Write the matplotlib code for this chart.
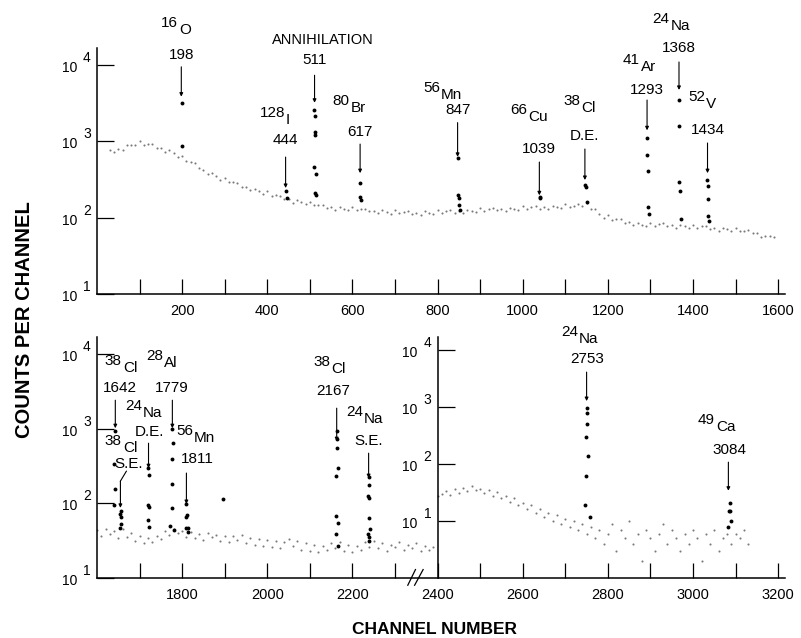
import matplotlib
matplotlib.use('Agg')
import matplotlib.pyplot as plt
from matplotlib.ticker import FixedLocator, NullLocator, NullFormatter
from matplotlib.transforms import blended_transform_factory

plt.rcParams['font.family'] = ['Liberation Sans', 'DejaVu Sans']

PX = 0.72  # points per pixel at dpi 100

# ---- top panel: channels 0-1600 ----
top_bg_ch = list(range(30, 1600, 10))
top_bg = [756, 718, 778, 752, 874, 880, 874, 990, 897, 918,
          914, 815, 818, 724, 759, 690, 624, 642, 549, 536,
          515, 441, 424, 371, 385, 345, 312, 332, 289, 289,
          286, 252, 253, 226, 239, 220, 204, 219, 193, 194,
          192, 172, 174, 157, 168, 158, 148, 161, 144, 147,
          147, 133, 136, 125, 136, 130, 124, 137, 124, 129,
          131, 120, 123, 114, 125, 118, 112, 124, 114, 117,
          121, 112, 116, 108, 121, 116, 111, 125, 115, 120,
          124, 115, 121, 114, 127, 123, 119, 134, 123, 130,
          134, 124, 130, 122, 135, 131, 127, 141, 130, 137,
          141, 131, 137, 128, 142, 137, 132, 148, 136, 143,
          149, 142, 154, 130, 129, 112, 100, 107, 94, 95,
          95, 85, 87, 79, 85, 81, 77, 86, 78, 82,
          84, 77, 80, 73, 81, 77, 74, 81, 74, 77,
          78, 71, 73, 67, 74, 70, 66, 73, 66, 67,
          68, 62, 63, 55, 57, 57, 56]

top_peak_ch = [199, 200,
               445, 446,
               510, 512, 511, 513, 510, 514, 511, 515,
               617, 618, 619,
               848, 849, 850, 851, 852,
               1040, 1041,
               1147, 1148, 1150,
               1292, 1293, 1294, 1295, 1296,
               1366, 1368, 1368, 1370, 1371,
               1433, 1434, 1435, 1436, 1437]
top_peak = [3160, 850,
            224, 178,
            2570, 2140, 1320, 1200, 457, 365, 209, 195,
            282, 186, 170,
            600, 196, 178, 145, 126,
            186, 178,
            264, 250, 160,
            1100, 665, 410, 138, 112,
            3470, 1590, 288, 222, 95,
            309, 258, 174, 105, 90]

# ---- bottom panel, left scale: channels 1600-2400 ----
low_bg_ch = list(range(1600, 2400, 10))
low_bg = [44, 36, 46, 39, 42, 34, 45, 35, 40, 31,
          36, 29, 34, 30, 37, 33, 42, 38, 46, 40,
          43, 35, 41, 34, 39, 32, 40, 35, 38, 31,
          37, 30, 36, 32, 38, 29, 34, 28, 33, 27,
          32, 26, 31, 25, 30, 33, 27, 31, 24, 29,
          23, 28, 22, 27, 24, 29, 25, 30, 23, 28,
          22, 27, 24, 30, 26, 31, 25, 29, 23, 28,
          26, 30, 24, 28, 25, 29, 23, 27, 24, 26]

low_peak_ch = [1642, 1640, 1643, 1641,
               1656, 1655, 1657, 1657, 1655,
               1720, 1721, 1720, 1722, 1720, 1722,
               1777, 1778, 1776, 1777, 1776, 1771, 1782,
               1810, 1811, 1809, 1808, 1813, 1813,
               1897,
               2163, 2164, 2163, 2165, 2162, 2161, 2165, 2162, 2166,
               2238, 2239, 2237, 2240, 2239, 2241, 2236, 2240, 2238]
low_peak = [940, 340, 155, 95,
            79, 72, 66, 53, 47,
            296, 240, 95, 89, 60, 48,
            980, 650, 390, 182, 87, 50, 44,
            98, 70, 66, 47, 47, 41,
            115,
            940, 740, 560, 296, 235, 68, 55, 39, 27,
            225, 177, 126, 118, 63, 46, 39, 35, 31]

# ---- bottom panel, right scale: channels 2400-3200 ----
high_bg_ch = list(range(2400, 3140, 10))
high_bg = [27, 30, 34, 29, 36, 31, 38, 33, 42, 35,
           37, 31, 35, 28, 32, 25, 28, 22, 25, 19,
           21, 16, 19, 14, 16, 12, 14, 10, 13, 9,
           11, 8, 10, 7, 9, 6, 8, 5, 7, 4,
           6, 9, 3, 7, 5, 10, 4, 6, 2, 7,
           5, 3, 6, 9, 4, 7, 5, 3, 6, 4,
           7, 5, 2, 6, 4, 7, 3, 5, 6, 4,
           6, 5, 7, 4]

high_peak_ch = [2750, 2752, 2752, 2749, 2753, 2749, 2747, 2757,
                3086, 3084, 3087, 3088, 3083]
high_peak = [955, 780, 500, 297, 138, 62, 19, 12,
             21, 15, 15, 10, 8]

# peak labels: channel, arrow top, arrow tip, energy text, mass, element
top_notes = [
    (198, 9330, 3800, '198', '16', 'O'),
    (443, 617, 243, '444', '128', 'I'),
    (511, 7240, 3160, '511', '', 'ANNIHILATION'),
    (618, 912, 380, '617', '80', 'Br'),
    (847, 1740, 620, '847', '56', 'Mn'),
    (1039, 531, 195, '1039', '66', 'Cu'),
    (1146, 786, 309, '1146', '38', 'Cl'),
    (1292, 3436, 1380, '1293', '41', 'Ar'),
    (1367, 10790, 4650, '1368', '24', 'Na'),
    (1434, 942, 380, '1434', '52', 'V'),
]
top_notes[6] = (1146, 786, 309, 'D.E.', '38', 'Cl')
low_notes = [
    (1643, 2415, 1018, '1642', '38', 'Cl'),
    (1655, 199, 87, 'S.E.', '38', 'Cl'),
    (1721, 641, 296, 'D.E.', '24', 'Na'),
    (1777, 2415, 1018, '1779', '28', 'Al'),
    (1810, 255, 98, '1811', '56', 'Mn'),
    (2163, 1888, 682, '2167', '38', 'Cl'),
    (2238, 471, 218, 'S.E.', '24', 'Na'),
]
high_notes = [
    (2750, 4110, 1274, '2753', '24', 'Na'),
    (3083, 108, 34, '3084', '49', 'Ca'),
]

# label layout in pixels: energy up, energy dx, isotope up, isotope split dx
top_layout = [(12, 0, 37, -3), (17, 0, 37, 0), (15, 0, 35, 8), (12, 0, 36, -10),
              (13, 0, 28, -17), (13, 0, 45, -12), (13, 0, 41, -4), (10, 0, 33, -7),
              (14, 0, 36, -9), (13, 0, 39, -2)]
low_layout = [(12, 5, 32, 7), (17, 8, 33, 2), (11, 1, 30, -6), (12, -1, 37, -9),
              (14, 11, 35, 7), (17, -4, 39, -6), (12, 0, 34, -5)]
high_layout = [(13, 1, 33, -8), (12, 1, 35, -13)]

fig = plt.figure(figsize=(8.01, 6.38), dpi=100)
ax_top = fig.add_axes([97 / 801, 1 - 294 / 638, 688 / 801, 246 / 638])
ax_low = fig.add_axes([97 / 801, 1 - 578 / 638, 688 / 801, 241 / 638])
ax_high = ax_low.twinx()


def style(ax, xlim, ylim, major, minor):
    ax.set_yscale('log')
    ax.set_xlim(*xlim)
    ax.set_ylim(*ylim)
    for s in ('top', 'right'):
        ax.spines[s].set_visible(False)
    for s in ('left', 'bottom'):
        ax.spines[s].set_linewidth(1.1)
    ax.xaxis.set_major_locator(FixedLocator(major))
    ax.xaxis.set_minor_locator(FixedLocator(minor))
    ax.xaxis.set_minor_formatter(NullFormatter())
    ax.tick_params(axis='x', which='both', direction='in', length=11, width=0.9,
                   pad=7, labelsize=10.5)
    ax.yaxis.set_major_locator(FixedLocator([10, 100, 1000, 10000]))
    ax.yaxis.set_minor_locator(NullLocator())
    ax.tick_params(axis='y', which='both', direction='in', length=12, width=0.9,
                   labelleft=False, labelright=False)


style(ax_top, (0, 1616), (10, 10 ** 4.216), range(200, 1601, 200), range(100, 1600, 200))
style(ax_low, (1600, 3216), (10, 10 ** 4.23), range(1800, 3201, 200),
      [1700, 1900, 2100, 2300, 2500, 2700, 2900, 3100])

ax_high.set_yscale('log')
ax_high.set_ylim(1, 10 ** 4.23)
for s in ('top', 'right', 'bottom'):
    ax_high.spines[s].set_visible(False)
ax_high.spines['left'].set_visible(True)
ax_high.spines['left'].set_position(('data', 2400))
ax_high.spines['left'].set_linewidth(1.1)
ax_high.yaxis.tick_left()
ax_high.yaxis.set_major_locator(FixedLocator([10, 100, 1000, 10000]))
ax_high.yaxis.set_minor_locator(NullLocator())
ax_high.tick_params(axis='y', which='both', direction='in', length=12, width=0.9,
                    labelleft=False, labelright=False)

bg_style = dict(ls='none', marker='o', ms=1.5, mew=0, color='#7a7a7a')
pk_style = dict(ls='none', marker='o', ms=2.8, mew=0, color='black')
ax_top.plot(top_bg_ch, top_bg, **bg_style)
ax_top.plot(top_peak_ch, top_peak, **pk_style)
ax_low.plot(low_bg_ch, low_bg, **bg_style)
ax_low.plot(low_peak_ch, low_peak, **pk_style)
ax_high.plot(high_bg_ch, high_bg, **bg_style)
ax_high.plot(high_peak_ch, high_peak, **pk_style)


def decades(ax, x, xcoords):
    for k in (1, 2, 3, 4):
        ax.annotate('10', xy=(x, 10 ** k), xycoords=(xcoords, 'data'),
                    xytext=(-20 * PX, -3 * PX), textcoords='offset points',
                    ha='right', va='center', fontsize=10, annotation_clip=False)
        ax.annotate(str(k), xy=(x, 10 ** k), xycoords=(xcoords, 'data'),
                    xytext=(-14 * PX, 7 * PX), textcoords='offset points',
                    ha='left', va='center', fontsize=10, annotation_clip=False)


decades(ax_top, 0, 'axes fraction')
decades(ax_low, 0, 'axes fraction')
decades(ax_high, 2400, 'data')


def label_peaks(ax, notes, layout):
    for (ch, top, tip, energy, mass, elem), (e_up, e_dx, i_up, i_dx) in zip(notes, layout):
        ax.annotate('', xy=(ch, tip), xytext=(ch, top), annotation_clip=False,
                    arrowprops=dict(arrowstyle='-|>', color='black', lw=0.8,
                                    mutation_scale=5, shrinkA=0, shrinkB=0))
        ax.annotate(energy, xy=(ch, top), xytext=(e_dx * PX, e_up * PX),
                    textcoords='offset points', ha='center', va='center',
                    fontsize=11, annotation_clip=False)
        if mass:
            ax.annotate(mass, xy=(ch, top), xytext=((i_dx - 0.5) * PX, (i_up + 7) * PX),
                        textcoords='offset points', ha='right', va='center',
                        fontsize=11, annotation_clip=False)
            ax.annotate(elem, xy=(ch, top), xytext=((i_dx + 0.5) * PX, i_up * PX),
                        textcoords='offset points', ha='left', va='center',
                        fontsize=11, annotation_clip=False)
        else:
            ax.annotate(elem, xy=(ch, top), xytext=(i_dx * PX, i_up * PX),
                        textcoords='offset points', ha='center', va='center',
                        fontsize=10.5, annotation_clip=False)


label_peaks(ax_top, top_notes, top_layout)
label_peaks(ax_low, low_notes, low_layout)
label_peaks(ax_high, high_notes, high_layout)

# bent leader of the 38Cl S.E. label
ax_low.plot([1669, 1655], [270, 199], color='black', lw=0.8)

# axis break marks on the lower baseline
blend = blended_transform_factory(ax_low.transData, ax_low.transAxes)
ax_low.plot([2330, 2348], [-0.03, 0.035], transform=blend, clip_on=False, color='black', lw=0.9)
ax_low.plot([2346, 2366], [-0.03, 0.035], transform=blend, clip_on=False, color='black', lw=0.9)

fig.text(25 / 801, 1 - 320 / 638, 'COUNTS PER CHANNEL', rotation=90, ha='center',
         va='center', fontsize=14.5, fontweight='bold')
fig.text(435 / 801, 1 - 629 / 638, 'CHANNEL NUMBER', ha='center', va='center',
         fontsize=12.5, fontweight='bold')

fig.savefig('out.png', dpi=100)
